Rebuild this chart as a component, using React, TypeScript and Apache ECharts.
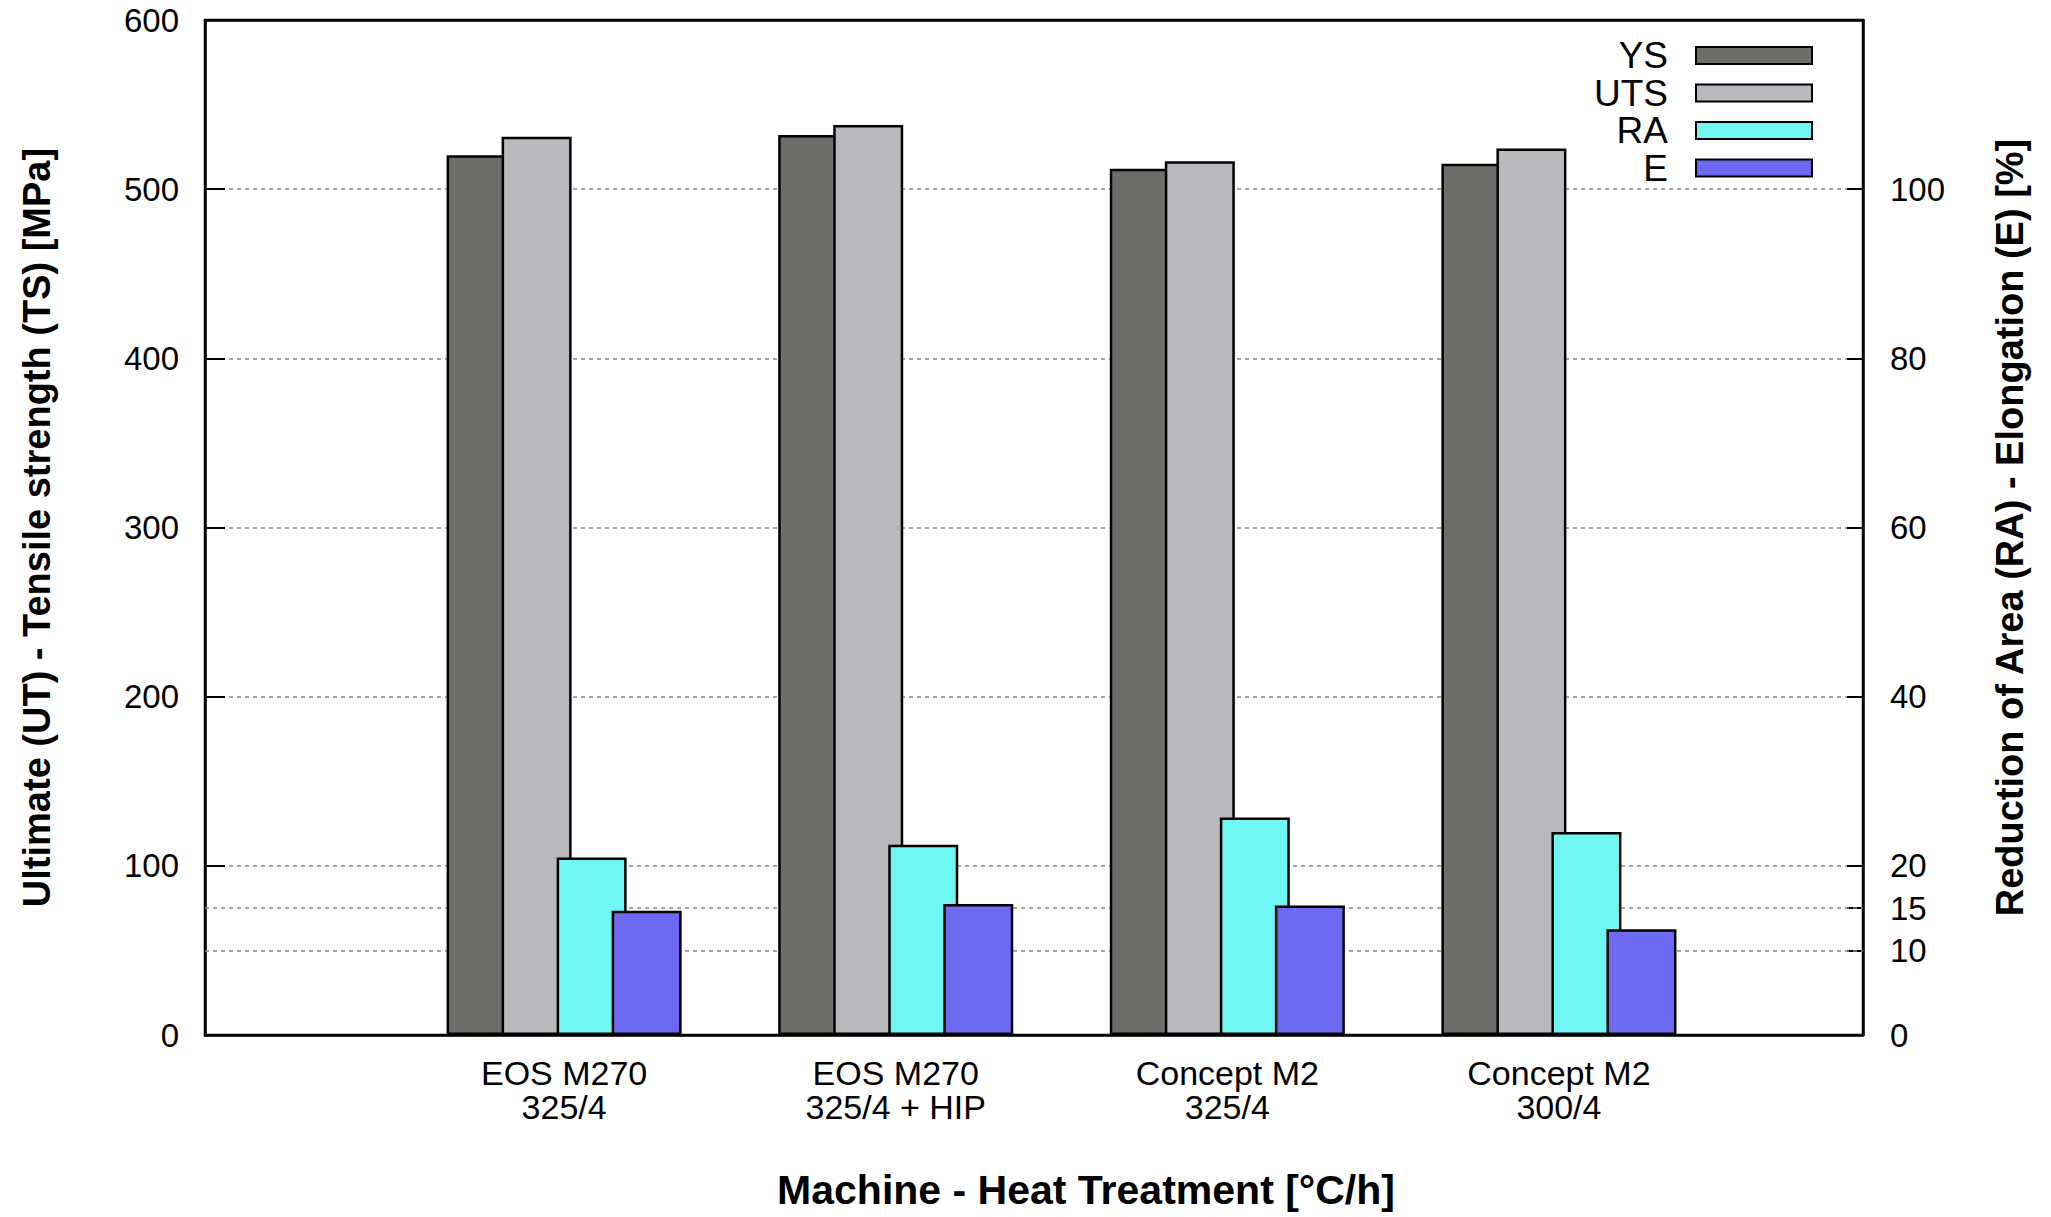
import React, { useEffect, useRef } from "react";
import * as echarts from "echarts";

const categories = ["EOS M270\n325/4", "EOS M270\n325/4 + HIP", "Concept M2\n325/4", "Concept M2\n300/4"];
const ysValues = [520, 532, 512, 515];
const utsValues = [531, 538, 516.5, 524];
const raValues = [21.0, 22.5, 25.7, 24.0];
const eValues = [14.7, 15.5, 15.3, 12.5];
const leftTicks = [0, 100, 200, 300, 400, 500, 600];
const rightTicks = [0, 10, 15, 20, 40, 60, 80, 100];
const extraGridLines = [10, 15];

const FONT = "'Liberation Sans', Arial, Helvetica, sans-serif";

export default function App() {
  const ref = useRef<HTMLDivElement>(null);
  useEffect(() => {
    if (!ref.current) return;
    const chart = echarts.init(ref.current, undefined, { renderer: "svg" });
    const toPairs = (arr: number[]) => arr.map((v, i) => [i, v]);
    const border = { borderColor: "#000", borderWidth: 2.5 };
    const option: any = {
      animation: false,
      backgroundColor: "#fff",
      textStyle: { fontFamily: FONT },
      grid: {
        left: 205,
        right: 188,
        top: 20,
        bottom: 182,
        show: true,
        borderColor: "#000",
        borderWidth: 2.5,
        backgroundColor: "transparent",
        outerBoundsMode: "none",
        containLabel: false,
      },
      legend: {
        orient: "vertical",
        right: 238,
        top: 37,
        align: "right",
        padding: 0,
        icon: "rect",
        itemWidth: 116,
        itemHeight: 17,
        itemGap: 0.5,
        selectedMode: false,
        textStyle: {
          fontFamily: FONT,
          fontSize: 37,
          color: "#000",
          lineHeight: 30,
          padding: [0, 23, 0, 0],
        },
        data: ["YS", "UTS", "RA", "E"],
      },
      xAxis: [
        {
          type: "value",
          min: -1.083,
          max: 3.917,
          axisLine: { show: true, onZero: false, lineStyle: { color: "#000", width: 2.5 } },
          axisTick: { show: false },
          splitLine: { show: false },
          axisLabel: {
            customValues: [0, 1, 2, 3],
            formatter: (v: number) => categories[Math.round(v)] ?? "",
            fontFamily: FONT,
            fontSize: 34,
            lineHeight: 34,
            color: "#000",
            margin: 21,
          },
          name: "Machine - Heat Treatment [°C/h]",
          nameLocation: "middle",
          nameGap: 134,
          nameTextStyle: {
            fontFamily: FONT,
            fontSize: 41,
            fontWeight: "bold",
            color: "#000",
            padding: [0, 0, 0, 104],
          },
        },
        {
          type: "value",
          position: "top",
          min: -1.083,
          max: 3.917,
          axisLine: { show: true, onZero: false, lineStyle: { color: "#000", width: 2.5 } },
          axisTick: { show: false },
          axisLabel: { show: false },
          splitLine: { show: false },
        },
      ],
      yAxis: [
        {
          type: "value",
          min: 0,
          max: 600,
          interval: 100,
          position: "left",
          axisLine: { show: true, onZero: false, lineStyle: { color: "#000", width: 2.5 } },
          axisTick: { show: true, inside: true, length: 20, lineStyle: { color: "#000", width: 2 } },
          axisLabel: {
            customValues: leftTicks,
            fontFamily: FONT,
            fontSize: 33,
            color: "#000",
            margin: 26,
          },
          splitLine: {
            show: true,
            showMinLine: false,
            showMaxLine: false,
            lineStyle: { color: "#888", width: 1.5, type: [4, 4] },
          },
          name: "Ultimate (UT) - Tensile strength (TS) [MPa]",
          nameLocation: "middle",
          nameGap: 149,
          nameRotate: 90,
          nameTextStyle: { fontFamily: FONT, fontSize: 38, fontWeight: "bold", color: "#000" },
        },
        {
          type: "value",
          min: 0,
          max: 120,
          position: "right",
          axisLine: { show: true, onZero: false, lineStyle: { color: "#000", width: 2.5 } },
          axisTick: {
            show: true,
            inside: true,
            length: 16,
            customValues: rightTicks,
            lineStyle: { color: "#000", width: 2 },
          },
          axisLabel: {
            customValues: rightTicks,
            fontFamily: FONT,
            fontSize: 33,
            color: "#000",
            margin: 27,
          },
          splitLine: { show: false },
          name: "Reduction of Area (RA) - Elongation (E) [%]",
          nameLocation: "middle",
          nameGap: 128,
          nameRotate: 90,
          nameTextStyle: { fontFamily: FONT, fontSize: 38, fontWeight: "bold", color: "#000" },
        },
      ],
      series: [
        {
          name: "YS",
          type: "bar",
          yAxisIndex: 0,
          data: toPairs(ysValues),
          barWidth: 70,
          barGap: "-21.4%",
          itemStyle: { color: "#6e6d69", ...border },
        },
        {
          name: "UTS",
          type: "bar",
          yAxisIndex: 0,
          data: toPairs(utsValues),
          barWidth: 70,
          barGap: "-21.4%",
          itemStyle: { color: "#b9b9bd", ...border },
        },
        {
          name: "RA",
          type: "bar",
          yAxisIndex: 1,
          data: toPairs(raValues),
          barWidth: 70,
          barGap: "-21.4%",
          itemStyle: { color: "#70f7f4", ...border },
        },
        {
          name: "E",
          type: "bar",
          yAxisIndex: 1,
          data: toPairs(eValues),
          barWidth: 70,
          barGap: "-21.4%",
          itemStyle: { color: "#6c6af3", ...border },
          markLine: {
            silent: true,
            z: 1,
            symbol: ["none", "none"],
            label: { show: false },
            lineStyle: { color: "#888", width: 1.5, type: [4, 4] },
            data: extraGridLines.map((v) => ({ yAxis: v })),
          },
        },
      ],
    };
    chart.setOption(option);
    return () => chart.dispose();
  }, []);
  return (
    <div
      ref={ref}
      style={{ position: "fixed", left: 0, top: 0, width: 2051, height: 1217, background: "#fff" }}
    />
  );
}
